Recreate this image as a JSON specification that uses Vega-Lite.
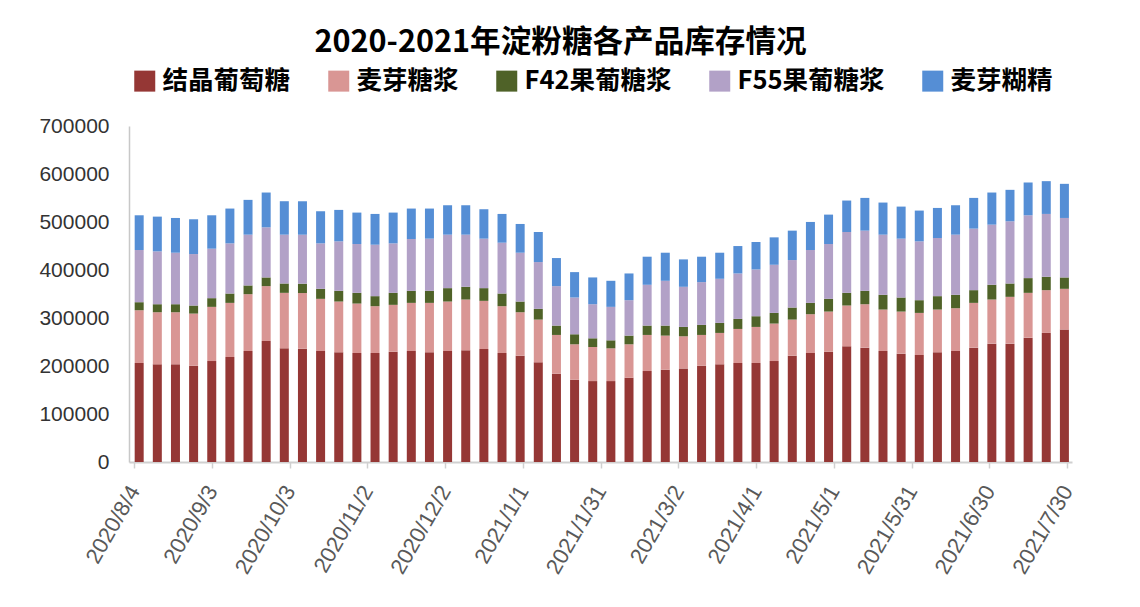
{
  "$schema": "https://vega.github.io/schema/vega-lite/v6.json",
  "width": 943,
  "height": 336,
  "autosize": {"type": "none"},
  "padding": {"left": 129, "top": 126, "right": 68, "bottom": 145},
  "background": "white",
  "title": {
    "text": "2020-2021年淀粉糖各产品库存情况",
    "font": "Noto Sans CJK SC",
    "fontSize": 30.6,
    "fontWeight": "bold",
    "color": "#000000",
    "anchor": "middle",
    "dx": -40,
    "offset": 9
  },
  "datasets": {
    "stackOrder": [
      {"product": "结晶葡萄糖", "rank": 1},
      {"product": "麦芽糖浆", "rank": 2},
      {"product": "F42果葡糖浆", "rank": 3},
      {"product": "F55果葡糖浆", "rank": 4},
      {"product": "麦芽糊精", "rank": 5}
    ]
  },
  "data": {
    "values": [
      {"date": "2020-08-06", "结晶葡萄糖": 206200, "麦芽糖浆": 110000, "F42果葡糖浆": 16700, "F55果葡糖浆": 108700, "麦芽糊精": 72400},
      {"date": "2020-08-13", "结晶葡萄糖": 203400, "麦芽糖浆": 108600, "F42果葡糖浆": 16700, "F55果葡糖浆": 110100, "麦芽糊精": 72400},
      {"date": "2020-08-20", "结晶葡萄糖": 203400, "麦芽糖浆": 108600, "F42果葡糖浆": 16700, "F55果葡糖浆": 107300, "麦芽糊精": 72400},
      {"date": "2020-08-27", "结晶葡萄糖": 200600, "麦芽糖浆": 108600, "F42果葡糖浆": 16800, "F55果葡糖浆": 107200, "麦芽糊精": 72500},
      {"date": "2020-09-03", "结晶葡萄糖": 210300, "麦芽糖浆": 112900, "F42果葡糖浆": 18100, "F55果葡糖浆": 103100, "麦芽糊精": 69600},
      {"date": "2020-09-10", "结晶葡萄糖": 218700, "麦芽糖浆": 112800, "F42果葡糖浆": 19500, "F55果葡糖浆": 104500, "麦芽糊精": 72500},
      {"date": "2020-09-17", "结晶葡萄糖": 231200, "麦芽糖浆": 118400, "F42果葡糖浆": 18200, "F55果葡糖浆": 105800, "麦芽糊精": 72500},
      {"date": "2020-09-24", "结晶葡萄糖": 252100, "麦芽糖浆": 114300, "F42果葡糖浆": 18100, "F55果葡糖浆": 104400, "麦芽糊精": 72500},
      {"date": "2020-10-01", "结晶葡萄糖": 236800, "麦芽糖浆": 115600, "F42果葡糖浆": 19500, "F55果葡糖浆": 101700, "麦芽糊精": 69700},
      {"date": "2020-10-08", "结晶葡萄糖": 236000, "麦芽糖浆": 116000, "F42果葡糖浆": 19500, "F55果葡糖浆": 102000, "麦芽糊精": 69700},
      {"date": "2020-10-15", "结晶葡萄糖": 231200, "麦芽糖浆": 108700, "F42果葡糖浆": 20900, "F55果葡糖浆": 94700, "麦芽糊精": 66900},
      {"date": "2020-10-22", "结晶葡萄糖": 228500, "麦芽糖浆": 105800, "F42果葡糖浆": 22300, "F55果葡糖浆": 103100, "麦芽糊精": 65500},
      {"date": "2020-10-29", "结晶葡萄糖": 227100, "麦芽糖浆": 103000, "F42果葡糖浆": 22300, "F55果葡糖浆": 101700, "麦芽糊精": 65500},
      {"date": "2020-11-05", "结晶葡萄糖": 227100, "麦芽糖浆": 97500, "F42果葡糖浆": 20900, "F55果葡糖浆": 107200, "麦芽糊精": 64100},
      {"date": "2020-11-12", "结晶葡萄糖": 229800, "麦芽糖浆": 97600, "F42果葡糖浆": 25000, "F55果葡糖浆": 103100, "麦芽糊精": 64100},
      {"date": "2020-11-19", "结晶葡萄糖": 231200, "麦芽糖浆": 100300, "F42果葡糖浆": 25100, "F55果葡糖浆": 108000, "麦芽糊精": 63400},
      {"date": "2020-11-26", "结晶葡萄糖": 228500, "麦芽糖浆": 103000, "F42果葡糖浆": 25100, "F55果葡糖浆": 108700, "麦芽糊精": 62700},
      {"date": "2020-12-03", "结晶葡萄糖": 231200, "麦芽糖浆": 103100, "F42果葡糖浆": 27900, "F55果葡糖浆": 111400, "麦芽糊精": 61300},
      {"date": "2020-12-10", "结晶葡萄糖": 232600, "麦芽糖浆": 105900, "F42果葡糖浆": 26500, "F55果葡糖浆": 108600, "麦芽糊精": 61300},
      {"date": "2020-12-17", "结晶葡萄糖": 235400, "麦芽糖浆": 100300, "F42果葡糖浆": 26500, "F55果葡糖浆": 103100, "麦芽糊精": 61300},
      {"date": "2020-12-24", "结晶葡萄糖": 227100, "麦芽糖浆": 97500, "F42果葡糖浆": 26400, "F55果葡糖浆": 105900, "麦芽糊精": 59900},
      {"date": "2020-12-31", "结晶葡萄糖": 221500, "麦芽糖浆": 90500, "F42果葡糖浆": 22300, "F55果葡糖浆": 101700, "麦芽糊精": 59900},
      {"date": "2021-01-07", "结晶葡萄糖": 207600, "麦芽糖浆": 89100, "F42果葡糖浆": 22300, "F55果葡糖浆": 97500, "麦芽糊精": 62700},
      {"date": "2021-01-14", "结晶葡萄糖": 183900, "麦芽糖浆": 80800, "F42果葡糖浆": 19500, "F55果葡糖浆": 82200, "麦芽糊精": 58500},
      {"date": "2021-01-21", "结晶葡萄糖": 171300, "麦芽糖浆": 73900, "F42果葡糖浆": 20900, "F55果葡糖浆": 76600, "麦芽糊精": 52900},
      {"date": "2021-01-28", "结晶葡萄糖": 168600, "麦芽糖浆": 71000, "F42果葡糖浆": 18100, "F55果葡糖浆": 71000, "麦芽糊精": 55800},
      {"date": "2021-02-04", "结晶葡萄糖": 168600, "麦芽糖浆": 68200, "F42果葡糖浆": 16700, "F55果葡糖浆": 69700, "麦芽糊精": 54300},
      {"date": "2021-02-11", "结晶葡萄糖": 175500, "麦芽糖浆": 69700, "F42果葡糖浆": 18100, "F55果葡糖浆": 73800, "麦芽糊精": 55700},
      {"date": "2021-02-18", "结晶葡萄糖": 189500, "麦芽糖浆": 75200, "F42果葡糖浆": 19500, "F55果葡糖浆": 85000, "麦芽糊精": 58500},
      {"date": "2021-02-25", "结晶葡萄糖": 192200, "麦芽糖浆": 71100, "F42果葡糖浆": 20900, "F55果葡糖浆": 93300, "麦芽糊精": 58500},
      {"date": "2021-03-04", "结晶葡萄糖": 195000, "麦芽糖浆": 66900, "F42果葡糖浆": 19500, "F55果葡糖浆": 83600, "麦芽糊精": 57100},
      {"date": "2021-03-11", "结晶葡萄糖": 200600, "麦芽糖浆": 64100, "F42果葡糖浆": 20900, "F55果葡糖浆": 89100, "麦芽糊精": 53000},
      {"date": "2021-03-18", "结晶葡萄糖": 203400, "麦芽糖浆": 65500, "F42果葡糖浆": 20900, "F55果葡糖浆": 91900, "麦芽糊精": 54300},
      {"date": "2021-03-25", "结晶葡萄糖": 206200, "麦芽糖浆": 71000, "F42果葡糖浆": 20900, "F55果葡糖浆": 94700, "麦芽糊精": 57100},
      {"date": "2021-04-01", "结晶葡萄糖": 206200, "麦芽糖浆": 75200, "F42果葡糖浆": 22300, "F55果葡糖浆": 97500, "麦芽糊精": 57100},
      {"date": "2021-04-08", "结晶葡萄糖": 210300, "麦芽糖浆": 78100, "F42果葡糖浆": 22200, "F55果葡糖浆": 100300, "麦芽糊精": 57100},
      {"date": "2021-04-15", "结晶葡萄糖": 221500, "麦芽糖浆": 75200, "F42果葡糖浆": 25100, "F55果葡糖浆": 98900, "麦芽糊精": 61300},
      {"date": "2021-04-22", "结晶葡萄糖": 227100, "麦芽糖浆": 80800, "F42果葡糖浆": 23600, "F55果葡糖浆": 110100, "麦芽糊精": 58500},
      {"date": "2021-04-29", "结晶葡萄糖": 229800, "麦芽糖浆": 83600, "F42果葡糖浆": 26500, "F55果葡糖浆": 114200, "麦芽糊精": 61300},
      {"date": "2021-05-06", "结晶葡萄糖": 241000, "麦芽糖浆": 85000, "F42果葡糖浆": 26400, "F55果葡糖浆": 126800, "麦芽糊精": 65500},
      {"date": "2021-05-13", "结晶葡萄糖": 238200, "麦芽糖浆": 90500, "F42果葡糖浆": 27900, "F55果葡糖浆": 125400, "麦芽糊精": 68200},
      {"date": "2021-05-20", "结晶葡萄糖": 231200, "麦芽糖浆": 86400, "F42果葡糖浆": 30700, "F55果葡糖浆": 125300, "麦芽糊精": 66900},
      {"date": "2021-05-27", "结晶葡萄糖": 225700, "麦芽糖浆": 87700, "F42果葡糖浆": 29300, "F55果葡糖浆": 122600, "麦芽糊精": 66800},
      {"date": "2021-06-03", "结晶葡萄糖": 222900, "麦芽糖浆": 87700, "F42果葡糖浆": 26500, "F55果葡糖浆": 122600, "麦芽糊精": 64100},
      {"date": "2021-06-10", "结晶葡萄糖": 228500, "麦芽糖浆": 89100, "F42果葡糖浆": 27900, "F55果葡糖浆": 121200, "麦芽糊精": 62600},
      {"date": "2021-06-17", "结晶葡萄糖": 231200, "麦芽糖浆": 89200, "F42果葡糖浆": 27900, "F55果葡糖浆": 125300, "麦芽糊精": 61300},
      {"date": "2021-06-24", "结晶葡萄糖": 238200, "麦芽糖浆": 93300, "F42果葡糖浆": 26500, "F55果葡糖浆": 128200, "麦芽糊精": 64000},
      {"date": "2021-07-01", "结晶葡萄糖": 246600, "麦芽糖浆": 91900, "F42果葡糖浆": 30700, "F55果葡糖浆": 125300, "麦芽糊精": 66900},
      {"date": "2021-07-08", "结晶葡萄糖": 246600, "麦芽糖浆": 97500, "F42果葡糖浆": 27800, "F55果葡糖浆": 129600, "麦芽糊精": 65500},
      {"date": "2021-07-15", "结晶葡萄糖": 259100, "麦芽糖浆": 93300, "F42果葡糖浆": 30700, "F55果葡糖浆": 130900, "麦芽糊精": 68300},
      {"date": "2021-07-22", "结晶葡萄糖": 268900, "麦芽糖浆": 89100, "F42果葡糖浆": 27900, "F55果葡糖浆": 130900, "麦芽糊精": 68300},
      {"date": "2021-07-29", "结晶葡萄糖": 275800, "麦芽糖浆": 85000, "F42果葡糖浆": 23700, "F55果葡糖浆": 123900, "麦芽糊精": 71100}
    ]
  },
  "transform": [
    {"fold": ["结晶葡萄糖", "麦芽糖浆", "F42果葡糖浆", "F55果葡糖浆", "麦芽糊精"], "as": ["product", "value"]},
    {"lookup": "product", "from": {"data": {"name": "stackOrder"}, "key": "product", "fields": ["rank"]}}
  ],
  "mark": {"type": "bar", "size": 9},
  "encoding": {
    "x": {
      "field": "date",
      "type": "temporal",
      "scale": {
        "type": "utc",
        "domain": [
          {"year": 2020, "month": 8, "date": 4, "utc": true},
          {"year": 2021, "month": 7, "date": 30, "utc": true}
        ]
      },
      "axis": {
        "title": null,
        "grid": false,
        "values": [
          {"year": 2020, "month": 8, "date": 4, "utc": true},
          {"year": 2020, "month": 9, "date": 3, "utc": true},
          {"year": 2020, "month": 10, "date": 3, "utc": true},
          {"year": 2020, "month": 11, "date": 2, "utc": true},
          {"year": 2020, "month": 12, "date": 2, "utc": true},
          {"year": 2021, "month": 1, "date": 1, "utc": true},
          {"year": 2021, "month": 1, "date": 31, "utc": true},
          {"year": 2021, "month": 3, "date": 2, "utc": true},
          {"year": 2021, "month": 4, "date": 1, "utc": true},
          {"year": 2021, "month": 5, "date": 1, "utc": true},
          {"year": 2021, "month": 5, "date": 31, "utc": true},
          {"year": 2021, "month": 6, "date": 30, "utc": true},
          {"year": 2021, "month": 7, "date": 30, "utc": true}
        ],
        "labelExpr": "utcFormat(datum.value, '%Y/%-m/%-d')",
        "labelAngle": -60,
        "labelFont": "Liberation Sans",
        "labelFontSize": 22,
        "labelColor": "#595959",
        "labelPadding": 19,
        "labelOverlap": false,
        "labelBound": false,
        "labelFlush": false,
        "tickColor": "#d0d0d0",
        "tickSize": 6,
        "tickWidth": 1.5,
        "domainColor": "#d0d0d0",
        "domainWidth": 2
      }
    },
    "y": {
      "field": "value",
      "type": "quantitative",
      "stack": "zero",
      "scale": {"domain": [0, 700000], "nice": false},
      "axis": {
        "title": null,
        "grid": false,
        "values": [0, 100000, 200000, 300000, 400000, 500000, 600000, 700000],
        "format": "d",
        "ticks": false,
        "tickSize": 0,
        "labelPadding": 20,
        "labelFont": "Liberation Sans",
        "labelFontSize": 21,
        "labelColor": "#333333",
        "domainColor": "#c8c8c8",
        "domainWidth": 1.5
      }
    },
    "order": {"field": "rank", "type": "quantitative", "sort": "ascending"},
    "color": {
      "field": "product",
      "type": "nominal",
      "sort": ["结晶葡萄糖", "麦芽糖浆", "F42果葡糖浆", "F55果葡糖浆", "麦芽糊精"],
      "scale": {
        "domain": ["结晶葡萄糖", "麦芽糖浆", "F42果葡糖浆", "F55果葡糖浆", "麦芽糊精"],
        "range": ["#953735", "#D99694", "#4F6228", "#B2A1C7", "#558ED5"]
      },
      "legend": {
        "title": null,
        "orient": "none",
        "legendX": 3,
        "legendY": -58,
        "direction": "horizontal",
        "symbolType": "square",
        "symbolSize": 441,
        "symbolStrokeWidth": 0,
        "symbolOpacity": 1,
        "labelFont": "Noto Sans CJK SC",
        "labelFontSize": 25.5,
        "labelFontWeight": "bold",
        "labelColor": "#000000",
        "labelOffset": 5,
        "labelLimit": 400,
        "columnPadding": 35,
        "padding": 0
      }
    }
  },
  "config": {
    "view": {"stroke": null}
  }
}
